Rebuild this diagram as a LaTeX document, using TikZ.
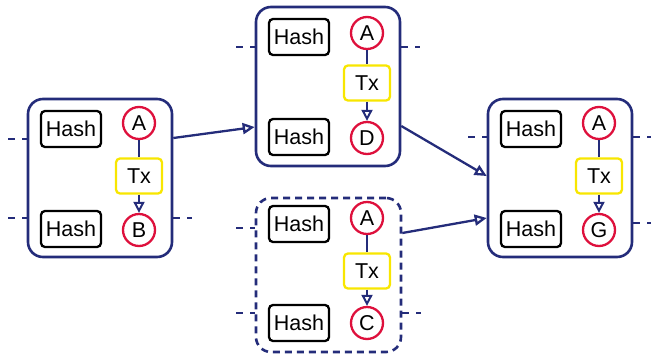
\documentclass[tikz,border=0pt]{standalone}
\usepackage{fontspec}
\setmainfont{Liberation Sans}
\usetikzlibrary{arrows.meta}
\definecolor{navy}{RGB}{36,44,122}
\definecolor{crim}{RGB}{222,16,60}
\definecolor{yel}{RGB}{248,230,0}
\tikzset{
  blockbox/.style={draw=navy, line width=2.6pt, rounded corners=15pt, minimum width=144pt, inner sep=0pt},
  hashbox/.style={draw=black, line width=2.3pt, rounded corners=4pt, minimum width=60pt, minimum height=36pt, inner sep=0pt, font=\fontsize{21.5}{24}\selectfont},
  addr/.style={draw=crim, circle, line width=2.3pt, minimum size=32pt, inner sep=0pt, fill=white, font=\fontsize{21.5}{24}\selectfont},
  txbox/.style={draw=yel, line width=2.3pt, rounded corners=4pt, minimum width=46pt, minimum height=35pt, inner sep=0pt, fill=white, font=\fontsize{21.5}{24}\selectfont},
  vline/.style={draw=navy, line width=2.2pt},
  varrow/.style={draw=navy, line width=2pt, -{Triangle[open,length=11pt,width=11pt]}},
  link/.style={draw=navy, line width=2.3pt, -{Triangle[open,length=12pt,width=11pt]}},
  stub/.style={draw=navy, line width=2.6pt, dash pattern=on 7pt off 7pt},
}
\begin{document}
\begin{tikzpicture}[x=1pt,y=-1pt]
\useasboundingbox (0,0) rectangle (651,354);
% block 1
\node[blockbox, minimum height=158pt] (b1) at (100,178) {};
\node[hashbox] (h1t) at (71,129) {Hash};
\node[hashbox] (h1b) at (71,229) {Hash};
\node[addr] (a1) at (139,123) {A};
\node[txbox] (t1) at (139,176) {Tx};
\node[addr] (o1) at (139,230) {B};
\draw[vline] (a1) -- (t1);
\draw[varrow] (t1) -- (o1);
% block 2
\node[blockbox, minimum height=159pt] (b2) at (328,86.5) {};
\node[hashbox] (h2t) at (299,37) {Hash};
\node[hashbox] (h2b) at (299,137) {Hash};
\node[addr] (a2) at (367,33) {A};
\node[txbox] (t2) at (367,83) {Tx};
\node[addr] (o2) at (367,138) {D};
\draw[vline] (a2) -- (t2);
\draw[varrow] (t2) -- (o2);
% block 3 (dashed)
\node[blockbox, minimum height=154pt, minimum width=145pt, dash pattern=on 7pt off 5pt] (b3) at (328.5,275) {};
\node[hashbox] (h3t) at (299,224) {Hash};
\node[hashbox] (h3b) at (299,323) {Hash};
\node[addr] (a3) at (367,218) {A};
\node[txbox] (t3) at (367,271) {Tx};
\node[addr] (o3) at (367,323) {C};
\draw[vline] (a3) -- (t3);
\draw[varrow] (t3) -- (o3);
% block 4
\node[blockbox, minimum height=158pt] (b4) at (560,178) {};
\node[hashbox] (h4t) at (531,129) {Hash};
\node[hashbox] (h4b) at (531,229) {Hash};
\node[addr] (a4) at (599,123) {A};
\node[txbox] (t4) at (599,176) {Tx};
\node[addr] (o4) at (599,230) {G};
\draw[vline] (a4) -- (t4);
\draw[varrow] (t4) -- (o4);
% stubs
\coordinate (s1a) at (8,139);
\coordinate (s1b) at (8,218);
\coordinate (s1c) at (192,218);
\coordinate (s2a) at (236,47);
\coordinate (s2b) at (420,47);
\coordinate (s3a) at (236,228);
\coordinate (s3b) at (236,313);
\coordinate (s3c) at (421,313);
\coordinate (s4a) at (468,137);
\coordinate (s4b) at (652,137);
\coordinate (s4c) at (652,223);
\draw[stub] (s1a) -- (b1.west |- s1a);
\draw[stub] (s1b) -- (b1.west |- s1b);
\draw[stub] (b1.east |- s1c) -- (s1c);
\draw[stub] (s2a) -- (b2.west |- s2a);
\draw[stub] (b2.east |- s2b) -- (s2b);
\draw[stub] (s3a) -- (b3.west |- s3a);
\draw[stub] (s3b) -- (b3.west |- s3b);
\draw[stub] (b3.east |- s3c) -- (s3c);
\draw[stub] (s4a) -- (b4.west |- s4a);
\draw[stub] (b4.east |- s4b) -- (s4b);
\draw[stub] (b4.east |- s4c) -- (s4c);
% links
\draw[link] (b1.east |- 0,138) -- (b2.west |- 0,127);
\draw[link] (b2.east |- 0,126) -- (b4.west |- 0,176);
\draw[link] (b3.east |- 0,233) -- (b4.west |- 0,218);
\end{tikzpicture}
\end{document}
